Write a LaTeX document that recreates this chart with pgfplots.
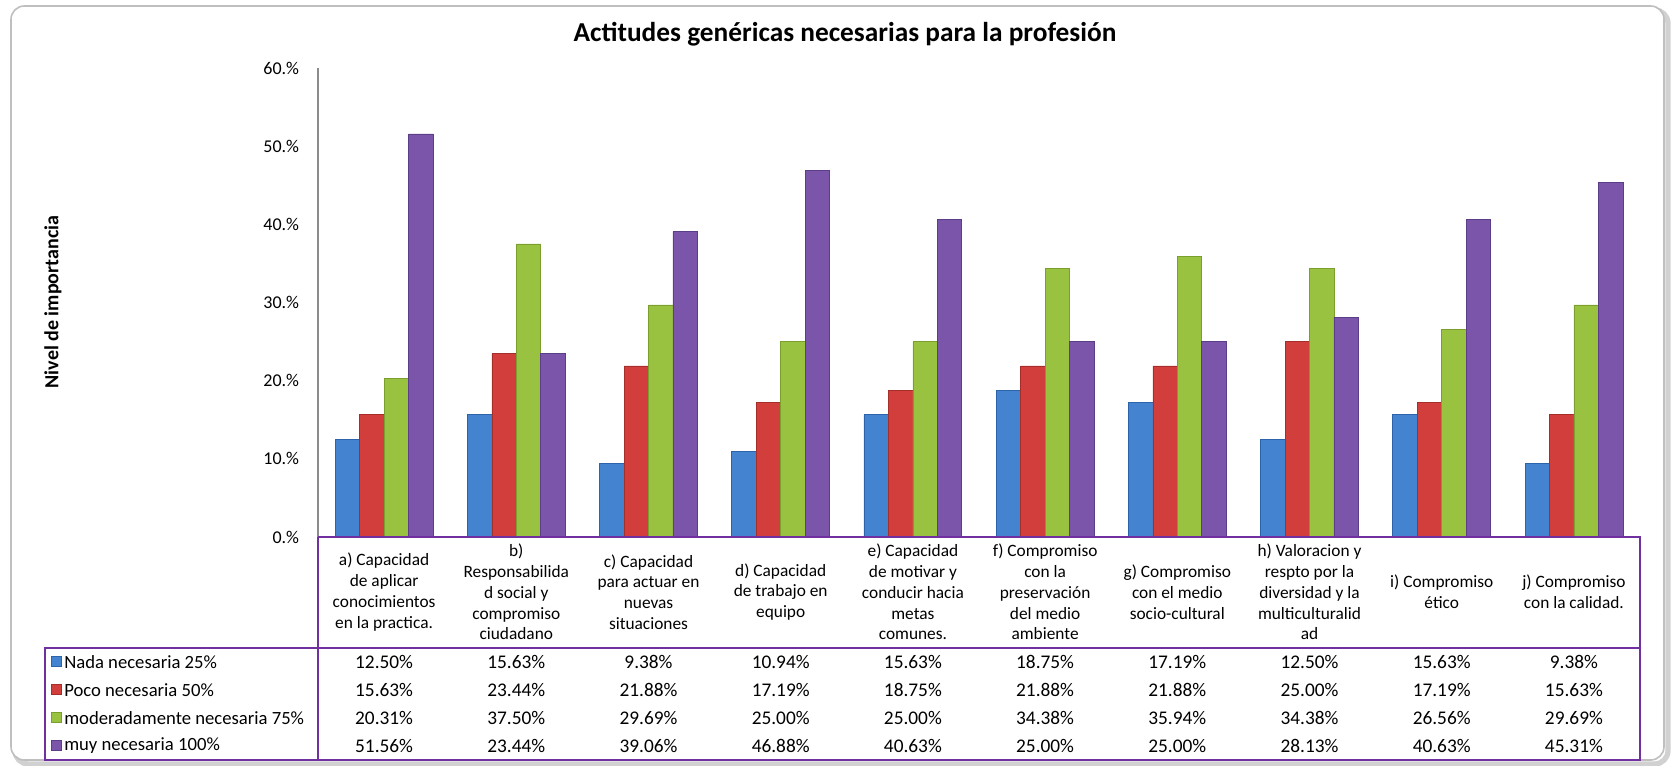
\documentclass[border=0pt]{standalone}
\usepackage{pgfplots}
\pgfplotsset{compat=1.18}
\usepackage{pgfplotstable}
\usepackage{fontspec}
\setmainfont{Carlito}

\definecolor{bluM}{HTML}{4383D0}\definecolor{bluD}{HTML}{2D63A8}
\definecolor{redM}{HTML}{D13E3B}\definecolor{redD}{HTML}{A52E2B}
\definecolor{grnM}{HTML}{98C23F}\definecolor{grnD}{HTML}{7A9F2F}
\definecolor{purM}{HTML}{7B55AA}\definecolor{purD}{HTML}{5B3D88}
\definecolor{tbl}{HTML}{7030A0}

\pgfplotstableread{
cat b r g p
0 12.50 15.63 20.31 51.56
1 15.63 23.44 37.50 23.44
2 9.38 21.88 29.69 39.06
3 10.94 17.19 25.00 46.88
4 15.63 18.75 25.00 40.63
5 18.75 21.88 34.38 25.00
6 17.19 21.88 35.94 25.00
7 12.50 25.00 34.38 28.13
8 15.63 17.19 26.56 40.63
9 9.38 15.63 29.69 45.31
}\data

\begin{document}
\begin{tikzpicture}
\begin{scope}[x=0.75pt,y=-0.75pt]
\useasboundingbox (0,0) rectangle (1673,766);
% frame with shadow
\draw[black!18, line width=4pt, rounded corners=10pt] (15,10) rectangle (1668,764);
\draw[white!50!gray, line width=1.2pt, fill=white, rounded corners=10pt] (11,6) rectangle (1664,760);
\end{scope}

\begin{axis}[
  at={(238.5pt,-402.75pt)}, anchor=south west,
  scale only axis, width=991.5pt, height=351.75pt,
  xmin=-0.5, xmax=9.5, ymin=0, ymax=60,
  axis x line=none, axis y line*=left,
  y axis line style={black!45, line width=0.9pt},
  xtick=\empty, ytick={0,10,...,60},
  major tick length=0pt,
  /pgf/number format/assume math mode=true,
  yticklabel={\pgfmathprintnumber{\tick}.\%},
  yticklabel style={font=\fontsize{13.5}{15}\selectfont, inner sep=0pt, xshift=-14pt},
  ybar=0pt, bar width=0.185,
]
\addplot[draw=bluD, line width=0.5pt, fill=bluM] table[x=cat,y=b]{\data};
\addplot[draw=redD, line width=0.5pt, fill=redM] table[x=cat,y=r]{\data};
\addplot[draw=grnD, line width=0.5pt, fill=grnM] table[x=cat,y=g]{\data};
\addplot[draw=purD, line width=0.5pt, fill=purM] table[x=cat,y=p]{\data};
\end{axis}

\begin{scope}[x=0.75pt,y=-0.75pt]
% title and y label
\node[font=\bfseries\fontsize{20.5}{22}\selectfont] at (845,34) {Actitudes genéricas necesarias para la profesión};
\node[rotate=90, font=\bfseries\fontsize{15}{17}\selectfont] at (53,302) {Nivel de importancia};
% table borders
\draw[tbl, line width=1pt] (318,537) -- (1640,537) -- (1640,760) -- (45,760) -- (45,648) -- (1640,648);
\draw[tbl, line width=1pt] (318,537) -- (318,760);
% category labels
\foreach \t [count=\n from 0] in {
  {a) Capacidad\\de aplicar\\conocimientos\\en la practica.},
  {b)\\Responsabilida\\d social y\\compromiso\\ciudadano},
  {c) Capacidad\\para actuar en\\nuevas\\situaciones},
  {d) Capacidad\\de trabajo en\\equipo},
  {e) Capacidad\\de motivar y\\conducir hacia\\metas\\comunes.},
  {f) Compromiso\\con la\\preservación\\del medio\\ambiente},
  {g) Compromiso\\con el medio\\socio-cultural},
  {h) Valoracion y\\respto por la\\diversidad y la\\multiculturalid\\ad},
  {i) Compromiso\\ético},
  {j) Compromiso\\con la calidad.}}
  \node[align=center, font=\fontsize{13}{15.6}\selectfont] at (384.1+132.2*\n, 592) {\t};
% legend labels
\foreach \lab/\cm/\cd [count=\k from 0] in {Nada necesaria 25\%/bluM/bluD, Poco necesaria 50\%/redM/redD, moderadamente necesaria 75\%/grnM/grnD, muy necesaria 100\%/purM/purD} {
  \path[fill=\cm, draw=\cd, line width=0.4pt] (51,656+28*\k) rectangle (61,666+28*\k);
  \node[anchor=west, inner sep=0pt, font=\fontsize{14}{16}\selectfont] at (64,662+28*\k) {\lab};
}
% values
\foreach \col/\k in {b/0,r/1,g/2,p/3} {
  \foreach \i in {0,...,9} {
    \pgfplotstablegetelem{\i}{\col}\of{\data}
    \node[font=\fontsize{14.5}{16}\selectfont] at (384.1+132.2*\i, 662+28*\k) {\pgfmathprintnumber[fixed,fixed zerofill,precision=2,assume math mode=true]{\pgfplotsretval}\%};
  }
}
\end{scope}
\end{tikzpicture}
\end{document}
